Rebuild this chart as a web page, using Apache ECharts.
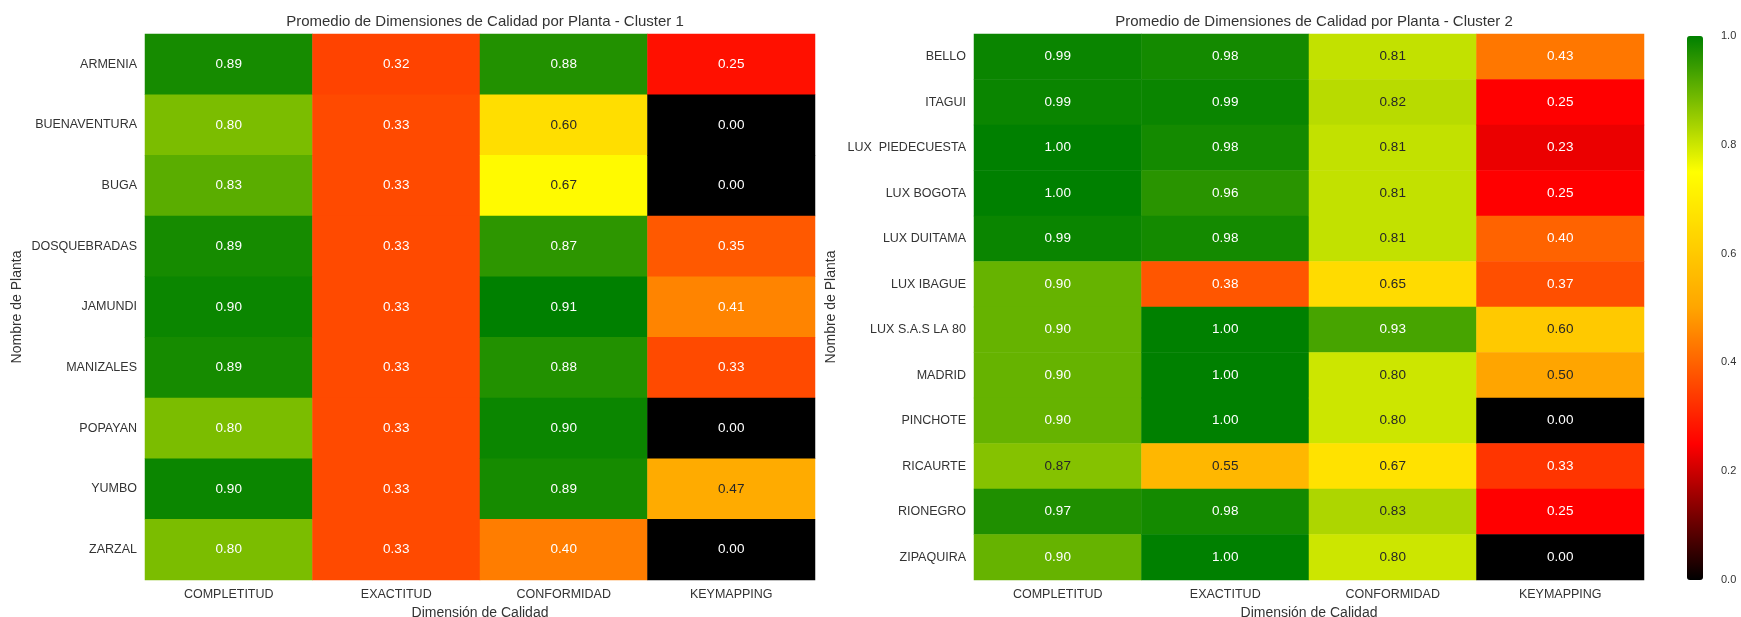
<!DOCTYPE html>
<html>
<head>
<meta charset="utf-8">
<title>Promedio de Dimensiones de Calidad por Planta</title>
<script src="https://cdn.jsdelivr.net/npm/echarts@6/dist/echarts.min.js"></script>
<style>
  html, body { margin: 0; padding: 0; background: #ffffff; }
  #chart { width: 1741px; height: 617px; }
</style>
</head>
<body>
<div id="chart"></div>
<script>
// Quality dimensions (columns of both heatmaps)
const dimensiones = ['COMPLETITUD', 'EXACTITUD', 'CONFORMIDAD', 'KEYMAPPING'];

// Cluster 1 plants and their mean scores per dimension
const plantasCluster1 = ['ARMENIA', 'BUENAVENTURA', 'BUGA', 'DOSQUEBRADAS', 'JAMUNDI', 'MANIZALES', 'POPAYAN', 'YUMBO', 'ZARZAL'];
const completitud1 = [0.89, 0.80, 0.83, 0.89, 0.90, 0.89, 0.80, 0.90, 0.80];
const exactitud1   = [0.32, 0.33, 0.33, 0.33, 0.33, 0.33, 0.33, 0.33, 0.33];
const conformidad1 = [0.88, 0.60, 0.67, 0.87, 0.91, 0.88, 0.90, 0.89, 0.40];
const keymapping1  = [0.25, 0.00, 0.00, 0.35, 0.41, 0.33, 0.00, 0.47, 0.00];

// Cluster 2 plants and their mean scores per dimension
const plantasCluster2 = ['BELLO', 'ITAGUI', 'LUX  PIEDECUESTA', 'LUX BOGOTA', 'LUX DUITAMA', 'LUX IBAGUE', 'LUX S.A.S LA 80', 'MADRID', 'PINCHOTE', 'RICAURTE', 'RIONEGRO', 'ZIPAQUIRA'];
const completitud2 = [0.99, 0.99, 1.00, 1.00, 0.99, 0.90, 0.90, 0.90, 0.90, 0.87, 0.97, 0.90];
const exactitud2   = [0.98, 0.99, 0.98, 0.96, 0.98, 0.38, 1.00, 1.00, 1.00, 0.55, 0.98, 1.00];
const conformidad2 = [0.81, 0.82, 0.81, 0.81, 0.81, 0.65, 0.93, 0.80, 0.80, 0.67, 0.83, 0.80];
const keymapping2  = [0.43, 0.25, 0.23, 0.25, 0.40, 0.37, 0.60, 0.50, 0.00, 0.33, 0.25, 0.00];

// Colour ramp: black -> red -> orange -> yellow -> green
const rampa = ['#000000', '#ff0000', '#ffa500', '#ffff00', '#008000'];
const colorbarTicks = [0, 0.2, 0.4, 0.6, 0.8, 1.0];

function hexToRgb(h) {
  return [parseInt(h.slice(1, 3), 16), parseInt(h.slice(3, 5), 16), parseInt(h.slice(5, 7), 16)];
}
// Ramp lookup on a 256-entry table, like a typical colormap LUT
function rampColor(t) {
  t = Math.max(0, Math.min(1, t));
  t = Math.min(Math.floor(t * 256), 255) / 255;
  const n = rampa.length - 1;
  const i = Math.min(n - 1, Math.floor(t * n));
  const f = t * n - i;
  const a = hexToRgb(rampa[i]), b = hexToRgb(rampa[i + 1]);
  return a.map((c, k) => c + (b[k] - c) * f);
}
// Pick dark or white annotation text by relative luminance of the cell colour
function textColorFor(value, vmin, vmax) {
  const rgb = rampColor((value - vmin) / (vmax - vmin)).map(c => {
    c = c / 255;
    return c <= 0.03928 ? c / 12.92 : Math.pow((c + 0.055) / 1.055, 2.4);
  });
  const lum = 0.2126 * rgb[0] + 0.7152 * rgb[1] + 0.0722 * rgb[2];
  return lum > 0.408 ? '#262626' : '#ffffff';
}

function buildCells(columns, vmin, vmax) {
  const cells = [];
  columns.forEach((col, x) => {
    col.forEach((v, y) => {
      cells.push({ value: [x, y, v], label: { color: textColorFor(v, vmin, vmax) } });
    });
  });
  return cells;
}

const cols1 = [completitud1, exactitud1, conformidad1, keymapping1];
const cols2 = [completitud2, exactitud2, conformidad2, keymapping2];
const min1 = Math.min(...cols1.flat()), max1 = Math.max(...cols1.flat());
const min2 = 0, max2 = 1;

const fontFamily = 'Liberation Sans, Arial, sans-serif';
const textGray = '#333333';

function xAxisFor(gridIndex) {
  return {
    type: 'category', gridIndex, data: dimensiones, position: 'bottom',
    axisLine: { show: false }, axisTick: { show: false }, splitLine: { show: false },
    axisLabel: { color: textGray, fontSize: 12.5, margin: 8, fontFamily },
    name: 'Dimensión de Calidad', nameLocation: 'middle', nameGap: 21,
    nameTextStyle: { color: textGray, fontSize: 14, fontFamily }
  };
}
function yAxisFor(gridIndex, plantas, nameGap) {
  return {
    type: 'category', gridIndex, data: plantas, inverse: true,
    axisLine: { show: false }, axisTick: { show: false }, splitLine: { show: false },
    axisLabel: { color: textGray, fontSize: 12.5, margin: 8, fontFamily },
    name: 'Nombre de Planta', nameLocation: 'middle', nameGap, nameRotate: 90,
    nameTextStyle: { color: textGray, fontSize: 14, fontFamily }
  };
}
function heatSeries(idx, cells) {
  return {
    type: 'heatmap', xAxisIndex: idx, yAxisIndex: idx, data: cells,
    label: { show: true, fontSize: 13.5, fontFamily, formatter: p => p.value[2].toFixed(2) },
    itemStyle: { borderWidth: 0 },
    emphasis: { disabled: true }
  };
}

const chart = echarts.init(document.getElementById('chart'), null, { renderer: 'canvas' });
chart.setOption({
  backgroundColor: '#ffffff',
  animation: false,
  title: [
    { text: 'Promedio de Dimensiones de Calidad por Planta - Cluster 1', left: 480, top: 9, textAlign: 'center',
      textStyle: { fontSize: 15, fontWeight: 'normal', color: textGray, fontFamily } },
    { text: 'Promedio de Dimensiones de Calidad por Planta - Cluster 2', left: 1309, top: 9, textAlign: 'center',
      textStyle: { fontSize: 15, fontWeight: 'normal', color: textGray, fontFamily } }
  ],
  grid: [
    { left: 145, top: 34, width: 670, height: 546, outerBoundsMode: 'none', containLabel: false },
    { left: 974, top: 34, width: 670, height: 546, outerBoundsMode: 'none', containLabel: false },
    { left: 1687, top: 36, width: 16, height: 544, outerBoundsMode: 'none', containLabel: false }
  ],
  xAxis: [
    xAxisFor(0), xAxisFor(1),
    { type: 'value', gridIndex: 2, show: false, min: 0, max: 1 }
  ],
  yAxis: [
    yAxisFor(0, plantasCluster1, 121),
    yAxisFor(1, plantasCluster2, 136),
    { type: 'value', gridIndex: 2, position: 'right', min: colorbarTicks[0], max: colorbarTicks[colorbarTicks.length - 1], interval: 0.2,
      axisLine: { show: false }, axisTick: { show: false }, splitLine: { show: false },
      axisLabel: { color: textGray, fontSize: 11, margin: 18, fontFamily, formatter: v => v.toFixed(1) } }
  ],
  visualMap: [
    { type: 'continuous', seriesIndex: 0, dimension: 2, min: min1, max: max1, show: false,
      inRange: { color: rampa } },
    { type: 'continuous', seriesIndex: 1, dimension: 2, min: min2, max: max2, show: true,
      calculable: false, hoverLink: false, left: 1687, top: 36, itemWidth: 16, itemHeight: 544, padding: 0,
      inRange: { color: rampa } }
  ],
  series: [
    heatSeries(0, buildCells(cols1, min1, max1)),
    heatSeries(1, buildCells(cols2, min2, max2))
  ]
});
</script>
</body>
</html>
